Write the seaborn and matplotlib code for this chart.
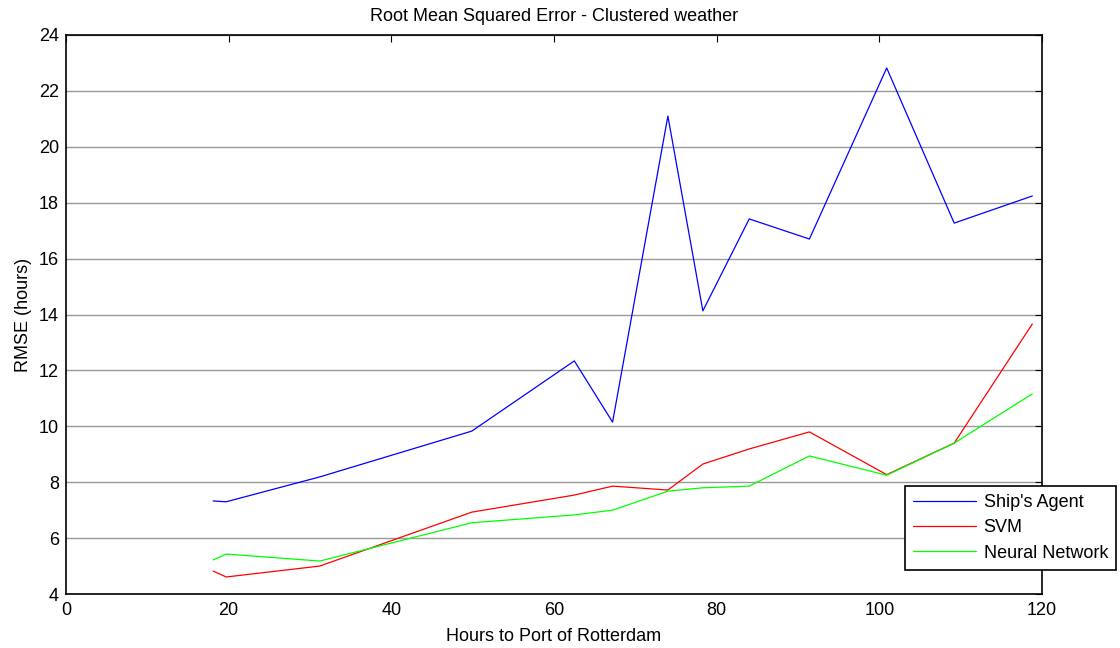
import numpy as np
import pandas as pd
import matplotlib
matplotlib.use('Agg')
import matplotlib.pyplot as plt
import seaborn as sns

hours = [18.1, 19.7, 31.2, 49.9, 62.5, 67.2, 74.0, 78.3, 84.0, 91.4, 100.9, 109.2, 118.8]
agent = [7.33, 7.3, 8.19, 9.83, 12.34, 10.15, 21.1, 14.13, 17.42, 16.7, 22.82, 17.27, 18.24]
svm = [4.82, 4.61, 5.0, 6.93, 7.54, 7.86, 7.72, 8.65, 9.19, 9.8, 8.27, 9.4, 13.66]
nnet = [5.22, 5.43, 5.18, 6.55, 6.83, 7.0, 7.68, 7.8, 7.86, 8.94, 8.25, 9.4, 11.16]
series_names = ["Ship's Agent", "SVM", "Neural Network"]
colors = ['#0000ff', '#ff0000', '#00ff00']

df = pd.DataFrame({
    'hours': hours * 3,
    'rmse': agent + svm + nnet,
    'model': [n for n in series_names for _ in hours],
})

sns.set_style('white')
plt.rcParams['font.family'] = ['Liberation Sans', 'DejaVu Sans']
plt.rcParams['text.color'] = 'black'
plt.rcParams['axes.labelcolor'] = 'black'
FS = 13

fig = plt.figure(figsize=(11.2, 6.48), dpi=100)
ax = fig.add_axes([0.0589, 0.0833, 0.8715, 0.8627])

sns.lineplot(data=df, x='hours', y='rmse', hue='model', hue_order=series_names,
             palette=colors, linewidth=0.9, ax=ax, sort=False)

ax.set_xlim(0, 120)
ax.set_ylim(4, 24)
ax.set_xticks(np.arange(0, 121, 20))
ax.set_yticks(np.arange(4, 25, 2))
ax.yaxis.grid(True, color='#999999', linewidth=1.0)
ax.xaxis.grid(False)
ax.tick_params(direction='in', length=5, width=0.8, top=True, right=True,
               labelsize=FS, colors='black', pad=5)
ax.tick_params(axis='x', pad=6)
for s in ax.spines.values():
    s.set_color('black')
    s.set_linewidth(1.2)

ax.set_title('Root Mean Squared Error - Clustered weather', fontsize=FS, pad=10,
             color='black')
ax.set_xlabel('Hours to Port of Rotterdam', fontsize=FS, labelpad=6)
ax.set_ylabel('RMSE (hours)', fontsize=FS, labelpad=5)

leg = ax.legend(loc='upper left', bbox_to_anchor=(0.8596, 0.193), fontsize=FS,
                frameon=True, fancybox=False, edgecolor='black', framealpha=1,
                borderpad=0.45, handlelength=3.5, handletextpad=0.4, labelspacing=0.45,
                borderaxespad=0)
leg.get_frame().set_linewidth(1.2)

fig.savefig('out.png', dpi=100)
